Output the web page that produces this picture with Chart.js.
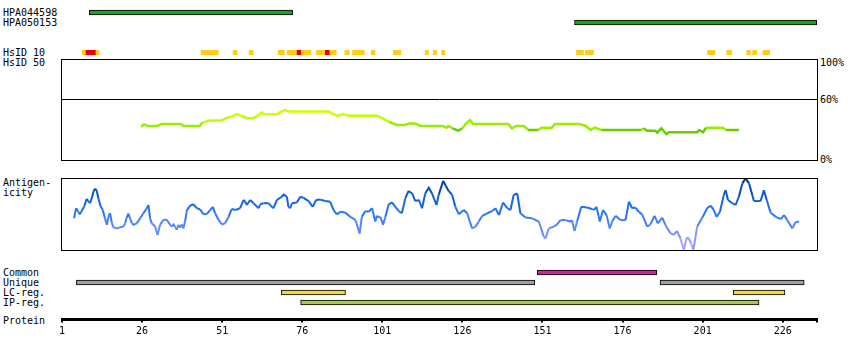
<!DOCTYPE html>
<html>
<head>
<meta charset="utf-8">
<script src="https://cdn.jsdelivr.net/npm/chart.js@4.4.0/dist/chart.umd.min.js"></script>
<style>
  body { margin: 0; background: #fff; }
  #wrap { position: relative; width: 850px; height: 360px; overflow: hidden; font-family: "DejaVu Sans Mono", monospace; font-size: 10px; color: #000; }
  #wrap canvas { position: absolute; left: 0; }
  .lbl { position: absolute; line-height: 10px; white-space: pre; }
</style>
</head>
<body>
<div id="wrap">
  <div class="lbl" style="left:3px;top:8px">HPA044598</div>
  <div class="lbl" style="left:3px;top:18px">HPA050153</div>
  <div class="lbl" style="left:3px;top:48px">HsID 10</div>
  <div class="lbl" style="left:3px;top:58px">HsID 50</div>
  <div class="lbl" style="left:820px;top:58px">100%</div>
  <div class="lbl" style="left:820px;top:95px">60%</div>
  <div class="lbl" style="left:820px;top:155px">0%</div>
  <div class="lbl" style="left:3px;top:178px">Antigen-</div>
  <div class="lbl" style="left:3px;top:188px">icity</div>
  <div class="lbl" style="left:3px;top:268px">Common</div>
  <div class="lbl" style="left:3px;top:278px">Unique</div>
  <div class="lbl" style="left:3px;top:288px">LC-reg.</div>
  <div class="lbl" style="left:3px;top:298px">IP-reg.</div>
  <div class="lbl" style="left:3px;top:316px">Protein</div>

  <canvas id="abChart" width="850" height="35" style="top:0px"></canvas>
  <canvas id="hsid10Chart" width="850" height="15" style="top:45px"></canvas>
  <canvas id="hsid50Chart" width="850" height="120" style="top:50px"></canvas>
  <canvas id="antigenChart" width="850" height="90" style="top:170px"></canvas>
  <canvas id="regionChart" width="850" height="50" style="top:260px"></canvas>
  <canvas id="axisChart" width="850" height="60" style="top:300px"></canvas>
</div>
<script>
// residue axis
const axisMin = 1;
const axisMax = 236.7;
const tickValues = [1, 26, 51, 76, 101, 126, 151, 176, 201, 226];

// antibodies
const antibodies = ['HPA044598', 'HPA050153'];
const antibodyStart = [9.5, 161];
const antibodyEnd = [73, 236.6];

// HsID 10 blocks (1 = high identity, red)
const hsid10Start = [7.3, 8.5, 11.6, 44.4, 54.4, 59.4, 68.5, 71.3, 74.4, 75.7, 80.4, 83.2, 84.6, 89.3, 91.7, 97.5, 104.4, 114.4, 116.9, 119.5, 161.6, 164.4, 202.5, 208.5, 214.8, 216.6, 219.8];
const hsid10End   = [8.5, 11.6, 12.6, 49.8, 55.7, 60.7, 70.4, 74.4, 75.7, 78.7, 83.2, 84.6, 86.6, 90.7, 95.4, 98.7, 106.8, 115.4, 117.9, 120.5, 163.8, 166.9, 204.8, 210, 215.9, 217.9, 221.9];
const hsid10High  = [0, 1, 0, 0, 0, 0, 0, 0, 1, 0, 0, 1, 0, 0, 0, 0, 0, 0, 0, 0, 0, 0, 0, 0, 0, 0, 0];

// HsID 50 identity (%)
const hsidPos = [25.7, 26.6, 27.8, 30.9, 31.9, 38.2, 39, 44, 44.8, 47.1, 50.8, 52.1, 53.9, 55.5, 57, 58.9, 60.7, 62, 63.3, 64.2, 68.2, 69.4, 70.7, 71.9, 84.3, 85.6, 87.1, 88.7, 90.3, 99.3, 101.1, 103, 105.5, 107.9, 109.8, 111.7, 112.9, 119.8, 121, 121.6, 122.9, 124.7, 126, 127.2, 128.4, 129.3, 140.3, 141.5, 142.7, 145.2, 146.5, 149.6, 150.8, 153.9, 154.9, 162.6, 164.5, 166, 167.3, 169.4, 181.8, 182.5, 183.7, 186.2, 186.8, 188.1, 189.7, 190.5, 199.3, 199.9, 201.1, 202.1, 207.3, 208.3, 212.3];
const hsidVal = [33, 35.3, 33.7, 33.7, 35.6, 35.6, 33.7, 33.7, 37, 39, 39, 41.3, 42.9, 45.5, 43.6, 41.3, 41.3, 43.6, 46.9, 45.2, 45.2, 47.9, 49.5, 47.9, 47.9, 45.5, 43.6, 45.5, 43.9, 43.9, 41.3, 37.9, 34.7, 34.7, 36.3, 35.6, 33.7, 33.7, 32, 33.7, 31.4, 29, 31.4, 36.3, 39.6, 35.6, 35.6, 31.4, 33.7, 33.7, 29.7, 29.7, 32, 32, 35.6, 35.6, 33.7, 29.7, 32, 29.7, 29.7, 31.4, 29, 29, 27.1, 31.4, 25.7, 27.4, 27.4, 29.7, 27.4, 32, 32, 29.7, 29.7];

// antigenicity (relative, 0-100)
const antigenPos = [4.75, 5.4, 6.1, 6.6, 7.1, 7.9, 8.7, 9.2, 9.75, 10.3, 10.8, 11.3, 11.8, 12.35, 13.1, 13.7, 14.4, 15, 15.5, 16, 16.5, 17, 18.1, 19.1, 20.2, 20.7, 21.2, 21.7, 22.25, 22.8, 23.3, 24.3, 25.4, 26.4, 27.5, 28, 28.5, 29, 30.1, 30.8, 31.6, 32.7, 33.7, 34.75, 35.3, 35.8, 36.3, 36.8, 37.35, 37.9, 38.4, 38.9, 39.4, 40, 41, 42, 43.1, 44.1, 45.2, 46.2, 47.25, 48.1, 48.8, 49.85, 50.9, 51.9, 53, 54, 55.1, 56.6, 57.7, 58.2, 58.7, 59.75, 60.8, 62.4, 62.9, 63.9, 65.5, 66.5, 67, 68.1, 69.6, 70.2, 71.2, 71.7, 72.25, 72.75, 74.3, 75.4, 76.4, 78, 79.3, 80.3, 81.6, 83.2, 84.75, 85.8, 86.8, 87.9, 89.4, 91, 92.6, 93.9, 94.6, 95.7, 96.7, 97.8, 98.8, 99.3, 99.9, 100.4, 101.2, 101.9, 103, 104, 105.1, 106.1, 107.1, 108.2, 109.2, 110.3, 111.3, 112.4, 113.4, 114.4, 115.5, 116.5, 117.9, 118.6, 120, 120.7, 121.7, 122.8, 123.8, 124.9, 126.4, 127.5, 129, 130.1, 131.1, 132.1, 133.7, 135.3, 136.3, 137.4, 138.7, 140, 141, 142, 143.1, 144.1, 145.7, 147.8, 149.85, 151.4, 151.9, 153, 154.5, 155.6, 156.6, 158.2, 159.7, 160.2, 161, 161.8, 163.1, 164.9, 166.5, 167, 167.85, 168.9, 169.9, 171, 172, 172.75, 173.8, 175.35, 176.9, 178, 179, 180, 181.1, 182.1, 183.7, 184.7, 186, 187, 188.4, 189.4, 191, 192, 193, 194.1, 195.1, 196, 196.7, 197.4, 198.1, 199.3, 200.9, 202.4, 203.5, 204.5, 205.35, 206.4, 207.6, 208.2, 208.9, 210.25, 211.3, 212.3, 213.4, 214.4, 215.5, 216.5, 217, 219.1, 220.1, 221, 222.2, 223.8, 225.4, 226.4, 227.4, 229, 230, 231.1];
const antigenVal = [44, 58, 53, 49.5, 54, 60, 71, 68, 65, 72, 81, 85, 83, 72, 60, 56, 44, 35, 46, 51, 39, 31.5, 30, 31.5, 32.5, 37, 45, 50.5, 44, 37, 35, 37, 44, 51, 58, 62.5, 44, 37, 32.5, 21, 35, 42, 42, 35, 32.5, 35.5, 32.5, 28, 35, 31, 35.5, 30, 39.5, 55.5, 61.5, 63.5, 58, 56.5, 49.5, 50, 55.5, 60, 51, 42, 35.5, 37, 46, 57, 55.5, 58, 69.5, 67, 62.5, 69.5, 65, 58, 63.5, 65, 65, 60, 58, 69.5, 74, 77, 74, 60, 58, 65, 66, 74, 72.5, 68, 60, 69.5, 70, 68, 67, 55.5, 49.5, 53, 52, 46, 42, 23, 46, 54, 53, 58, 39.5, 47.5, 45, 46, 35, 45, 63.5, 66, 60, 54, 51, 72, 82, 78.5, 68, 69.5, 58, 78.5, 86.5, 78.5, 62.5, 76.5, 96, 90, 82, 76.5, 60, 49.5, 55.5, 51, 30, 32.5, 39.5, 47, 51, 54, 58, 48.5, 66, 58, 55.5, 76.5, 78.5, 51, 45, 44, 39.5, 18.5, 16, 30, 32.5, 35.5, 41.5, 41.5, 39.5, 41.5, 26.5, 39.5, 60, 59, 57, 55.5, 60, 39.5, 55.5, 48.5, 30, 39.5, 47.5, 41.5, 41.5, 67, 58, 59, 53, 49.5, 32.5, 35.5, 47.5, 37, 45, 34.5, 23, 21, 26.5, 16, 0, 17, 16, 9, 0, 32.5, 45, 58, 61.5, 55.5, 46, 53, 76.5, 83, 69.5, 65, 62.5, 74, 92.5, 99.5, 92.5, 76.5, 68, 68, 83, 69.5, 52, 46, 43, 48.5, 41.5, 30, 38.5, 39.5];

// regions
const regionNames = ['Common', 'Unique', 'LC-reg.', 'IP-reg.'];
const regionRow   = ['Common', 'Unique', 'Unique', 'LC-reg.', 'LC-reg.', 'IP-reg.'];
const regionStart = [149.4, 5.5, 187.7, 69.5, 210.6, 75.5];
const regionEnd   = [186.7, 148.6, 232.7, 89.5, 226.7, 218.6];
const regionColor = { 'Common': '#c8289b', 'Unique': '#a0a0a0', 'LC-reg.': '#f0dc3c', 'IP-reg.': '#a8c850' };

const PAD_L = 62, PAD_R = 33;

// draws the black frame (and an optional reference line) around the chart area
const framePlugin = {
  id: 'frame',
  afterDraw(chart, args, opts) {
    if (!opts.show) return;
    const { ctx, chartArea: a } = chart;
    ctx.save();
    ctx.strokeStyle = '#000';
    ctx.lineWidth = 1;
    ctx.strokeRect(a.left - 0.5, a.top + 0.5, a.right - a.left + 1, a.bottom - a.top);
    if (opts.mark != null) {
      const y = Math.round(chart.scales.y.getPixelForValue(opts.mark)) + 0.5;
      ctx.beginPath();
      ctx.moveTo(a.left, y);
      ctx.lineTo(a.right, y);
      ctx.stroke();
    }
    ctx.restore();
  }
};
Chart.register(framePlugin);

const xScale = () => ({ type: 'linear', min: axisMin, max: axisMax, display: false });
const baseOpts = (top, bottom) => ({
  responsive: false,
  animation: false,
  events: [],
  layout: { padding: { left: PAD_L, right: PAD_R, top: top, bottom: bottom } },
  plugins: { legend: { display: false }, tooltip: { enabled: false } },
});

// antibody bars
new Chart(document.getElementById('abChart'), {
  type: 'bar',
  data: {
    labels: antibodies,
    datasets: [{
      data: antibodies.map((a, i) => [antibodyStart[i], antibodyEnd[i]]),
      backgroundColor: '#20a020',
      borderColor: '#000',
      borderWidth: 1,
      borderSkipped: false,
      barThickness: 5,
    }],
  },
  options: {
    ...baseOpts(7.5, 7.5),
    indexAxis: 'y',
    scales: { x: xScale(), y: { display: false } },
  },
});

// HsID 10
new Chart(document.getElementById('hsid10Chart'), {
  type: 'bar',
  data: {
    labels: ['HsID 10'],
    datasets: [{
      data: hsid10Start.map((s, i) => ({ y: 'HsID 10', x: [s, hsid10End[i]] })),
      backgroundColor: hsid10High.map(h => h ? '#e60000' : '#ffcc1a'),
      borderWidth: 0,
      barThickness: 5,
    }],
  },
  options: {
    ...baseOpts(5, 5),
    indexAxis: 'y',
    scales: { x: xScale(), y: { display: false } },
  },
});

// HsID 50
const hsidColor = v => v < 30.5 ? '#66cc00' : v < 38 ? '#99ee00' : v < 44 ? '#bbff00' : '#ccff00';
new Chart(document.getElementById('hsid50Chart'), {
  type: 'line',
  data: {
    datasets: [{
      data: hsidPos.map((p, i) => ({ x: p, y: hsidVal[i] })),
      borderWidth: 2.5,
      pointRadius: 0,
      segment: { borderColor: c => hsidColor((c.p0.parsed.y + c.p1.parsed.y) / 2) },
    }],
  },
  options: {
    ...baseOpts(9, 10),
    scales: { x: xScale(), y: { type: 'linear', min: 0, max: 100, display: false } },
    plugins: { legend: { display: false }, tooltip: { enabled: false }, frame: { show: true, mark: 60 } },
  },
});

// antigenicity
const antigenStops = [[0, [190, 170, 255]], [25, [115, 140, 255]], [50, [40, 120, 250]], [75, [10, 90, 220]], [100, [0, 50, 120]]];
const antigenColor = v => {
  for (let i = 1; i < antigenStops.length; i++) {
    const [v1, c1] = antigenStops[i];
    const [v0, c0] = antigenStops[i - 1];
    if (v <= v1) {
      const t = (v - v0) / (v1 - v0);
      return 'rgb(' + c0.map((c, k) => Math.round(c + (c1[k] - c) * t)).join(',') + ')';
    }
  }
  return 'rgb(0,50,120)';
};
new Chart(document.getElementById('antigenChart'), {
  type: 'line',
  data: {
    datasets: [{
      data: antigenPos.map((p, i) => ({ x: p, y: antigenVal[i] })),
      borderWidth: 2,
      pointRadius: 0,
      segment: { borderColor: c => antigenColor((c.p0.parsed.y + c.p1.parsed.y) / 2) },
    }],
  },
  options: {
    ...baseOpts(8, 10),
    scales: { x: xScale(), y: { type: 'linear', min: 0, max: 100, display: false } },
    plugins: { legend: { display: false }, tooltip: { enabled: false }, frame: { show: true } },
  },
});

// regions
new Chart(document.getElementById('regionChart'), {
  type: 'bar',
  data: {
    labels: regionNames,
    datasets: [{
      data: regionRow.map((r, i) => ({ y: r, x: [regionStart[i], regionEnd[i]] })),
      backgroundColor: regionRow.map(r => regionColor[r]),
      borderColor: '#000',
      borderWidth: 1,
      borderSkipped: false,
      barThickness: 5,
    }],
  },
  options: {
    ...baseOpts(7.5, 2.5),
    indexAxis: 'y',
    scales: { x: xScale(), y: { display: false } },
  },
});

// protein axis
new Chart(document.getElementById('axisChart'), {
  type: 'line',
  data: { datasets: [] },
  options: {
    ...baseOpts(2, 23),
    scales: {
      x: {
        type: 'linear',
        min: axisMin,
        max: axisMax,
        afterBuildTicks: s => { s.ticks = tickValues.concat([axisMax]).map(v => ({ value: v })); },
        ticks: {
          autoSkip: false,
          maxRotation: 0,
          padding: 3,
          color: '#000',
          font: { family: 'DejaVu Sans Mono', size: 10 },
          callback: v => tickValues.includes(v) ? String(v) : '',
        },
        grid: { drawOnChartArea: false, drawTicks: true, tickLength: 3, color: '#000', lineWidth: 2 },
        border: { display: true, color: '#000', width: 3 },
      },
      y: { display: false },
    },
  },
});
</script>
</body>
</html>
